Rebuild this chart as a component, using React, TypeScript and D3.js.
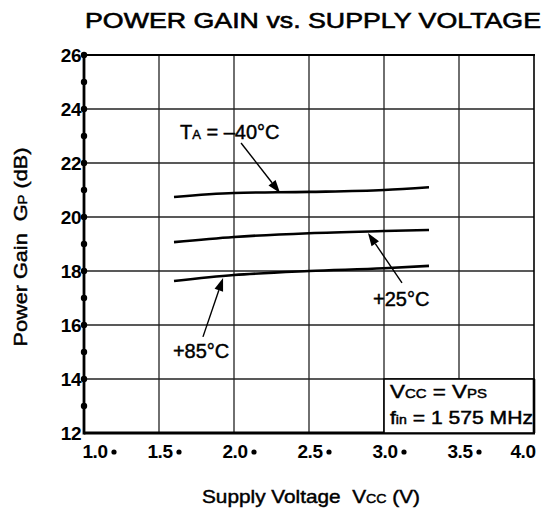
import React from 'react';
import * as d3 from 'd3';

// supply voltage (V) sample points
const voltages = [1.6, 2.0, 2.5, 3.0, 3.3];
const gainMinus40 = [20.74, 20.89, 20.93, 21.0, 21.1];
const gainPlus25 = [19.07, 19.26, 19.4, 19.48, 19.52];
const gainPlus85 = [17.63, 17.85, 18.0, 18.1, 18.19];

const xTicks = [1.0, 1.5, 2.0, 2.5, 3.0, 3.5, 4.0];
const yTicks = [12, 14, 16, 18, 20, 22, 24, 26];
const yDots = [13, 14, 15, 16, 17, 18, 19, 20, 21, 22, 23, 24, 25, 26];

// annotations in data units: label pos, arrow tail, arrow head
const labels = [
  { text: 'T', sub: 'A', rest: ' = \u201340\u00B0C', lx: 1.64, ly: 22.89, tx: 2.047, ty: 22.74, hx: 2.307, hy: 20.89 },
  { text: '+25\u00B0C', sub: '', rest: '', lx: 2.927, ly: 16.7, tx: 3.12, ty: 17.56, hx: 2.893, hy: 19.41 },
  { text: '+85\u00B0C', sub: '', rest: '', lx: 1.593, ly: 14.78, tx: 1.793, ty: 15.56, hx: 1.927, hy: 17.74 },
];

const W = 553;
const H = 510;
const m = { left: 84, right: 534, top: 55, bottom: 433 };
const font = '"Liberation Sans", Arial, sans-serif';
const heavy = { stroke: '#000', strokeWidth: 0.45, whiteSpace: 'pre' as const };

function App() {
  const x = d3.scaleLinear().domain([1, 4]).range([m.left, m.right]);
  const y = d3.scaleLinear().domain([12, 26]).range([m.bottom, m.top]);

  const line = d3.line<number>()
    .x((_, i) => x(voltages[i]))
    .y(d => y(d))
    .curve(d3.curveMonotoneX);

  const series = [gainMinus40, gainPlus25, gainPlus85];

  const arrow = (a: typeof labels[0], i: number) => {
    const x1 = x(a.tx), y1 = y(a.ty), x2 = x(a.hx), y2 = y(a.hy);
    const ang = Math.atan2(y2 - y1, x2 - x1);
    const L = 13, w = 4.5;
    const bx = x2 - L * Math.cos(ang), by = y2 - L * Math.sin(ang);
    const p1 = [bx + w * Math.sin(ang), by - w * Math.cos(ang)];
    const p2 = [bx - w * Math.sin(ang), by + w * Math.cos(ang)];
    return (
      <g key={'a' + i}>
        <line x1={x1} y1={y1} x2={bx} y2={by} stroke="#000" strokeWidth={1.4} />
        <polygon points={`${x2},${y2} ${p1[0]},${p1[1]} ${p2[0]},${p2[1]}`} fill="#000" />
      </g>
    );
  };

  return (
    <svg width={W} height={H} style={{ position: 'absolute', left: 0, top: 0, background: '#fff' }} fontFamily={font}>
      <text x={313} y={28} textAnchor="middle" fontSize={22} textLength={456} lengthAdjust="spacingAndGlyphs" style={{ stroke: '#000', strokeWidth: 0.6 }}>
        POWER GAIN vs. SUPPLY VOLTAGE
      </text>

      {/* grid */}
      {xTicks.slice(1, -1).map(t => (
        <line key={'gx' + t} x1={x(t)} x2={x(t)} y1={m.top} y2={m.bottom} stroke="#222" strokeWidth={1.3} />
      ))}
      {yTicks.slice(1, -1).map(t => (
        <line key={'gy' + t} x1={m.left} x2={m.right} y1={y(t)} y2={y(t)} stroke="#222" strokeWidth={1.3} />
      ))}

      {/* frame */}
      <line x1={m.left} x2={m.right + 1} y1={m.top} y2={m.top} stroke="#000" strokeWidth={2.2} />
      <line x1={m.right} x2={m.right} y1={m.top} y2={m.bottom} stroke="#000" strokeWidth={1.6} />
      <line x1={m.left} x2={m.right + 1} y1={m.bottom} y2={m.bottom} stroke="#000" strokeWidth={2.8} />
      <line x1={m.left} x2={m.left} y1={m.top} y2={m.bottom + 1.4} stroke="#000" strokeWidth={2.8} />

      {/* condition box */}
      <rect x={x(3.0)} y={y(14)} width={m.right - x(3.0)} height={y(12) - y(14)} fill="#fff" stroke="#000" strokeWidth={1.6} />
      <line x1={m.right} x2={m.right} y1={y(14)} y2={m.bottom} stroke="#000" strokeWidth={2.6} />
      <text x={x(3.0) + 6} y={y(14) + 19} fontSize={18} textLength={97} lengthAdjust="spacingAndGlyphs" style={heavy}>
        V<tspan fontSize={12}>CC</tspan> = V<tspan fontSize={12}>PS</tspan>
      </text>
      <text x={x(3.0) + 6} y={y(14) + 45} fontSize={18} textLength={143} lengthAdjust="spacingAndGlyphs" style={heavy}>
        f<tspan fontSize={12}>in</tspan> = 1 575 MHz
      </text>

      {/* axis dots */}
      {yDots.map(t => (
        <circle key={'d' + t} cx={m.left} cy={y(t)} r={3.2} fill="#000" />
      ))}

      {/* y tick labels */}
      {yTicks.map(t => (
        <text key={'yl' + t} x={m.left - 3} y={y(t) + 7} textAnchor="end" fontSize={19} fontWeight="bold" letterSpacing={-0.5}>
          {t}
        </text>
      ))}

      {/* x tick labels */}
      {xTicks.map((t, i) => {
        const last = i === xTicks.length - 1;
        const first = i === 0;
        const cx = first ? x(t) + 11 : last ? m.right - 11 : x(t) + 1;
        return (
          <g key={'xl' + t}>
            <text x={cx} y={y(12) + 25} textAnchor="middle" fontSize={19} fontWeight="bold" letterSpacing={-0.5}>
              {t.toFixed(1)}
            </text>
            {!last && <circle cx={cx + 19} cy={y(12) + 19} r={2.6} fill="#000" />}
          </g>
        );
      })}

      {/* axis titles */}
      <text x={311} y={503} textAnchor="middle" fontSize={19} textLength={218} lengthAdjust="spacingAndGlyphs" style={heavy}>
        Supply Voltage  V<tspan fontSize={13}>CC</tspan> (V)
      </text>
      <text transform="translate(27,247) rotate(-90)" textAnchor="middle" fontSize={19} textLength={199} lengthAdjust="spacingAndGlyphs" style={heavy}>
        Power Gain  G<tspan fontSize={13}>P</tspan> (dB)
      </text>

      {/* curves */}
      {series.map((s, i) => (
        <path key={'s' + i} d={line(s) || ''} fill="none" stroke="#000" strokeWidth={2.6} />
      ))}

      {/* annotations */}
      {labels.map(arrow)}
      {labels.map((a, i) => (
        <text key={'t' + i} x={x(a.lx)} y={y(a.ly)} fontSize={20} style={heavy}>
          {a.text}
          {a.sub && <tspan fontSize={13}>{a.sub}</tspan>}
          {a.rest}
        </text>
      ))}
    </svg>
  );
}

export default App;
